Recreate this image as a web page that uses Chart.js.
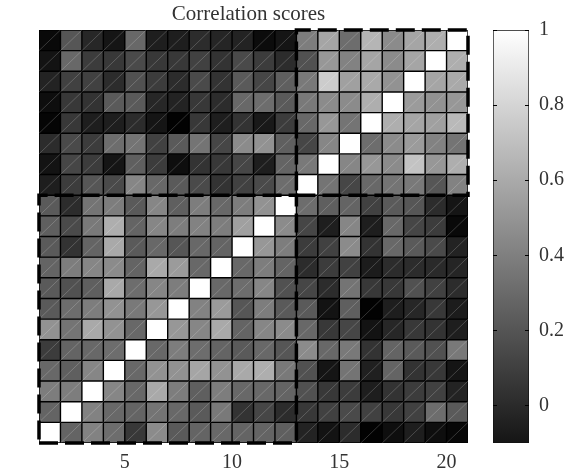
<!DOCTYPE html>
<html>
<head>
<meta charset="utf-8">
<title>Correlation scores</title>
<script src="https://cdn.jsdelivr.net/npm/chart.js@4/dist/chart.umd.js"></script>
<style>
  html, body { margin: 0; background: #fff; }
  canvas { position: absolute; left: 0; top: 0; }
</style>
</head>
<body>
<canvas id="heatmap" width="565" height="471"></canvas>
<canvas id="colorbar" width="565" height="471"></canvas>
<script>
const chartTitle = 'Correlation scores';
const xTicks = [5, 10, 15, 20];
const yTicks = [2, 4, 6, 8, 10, 12, 14, 16, 18, 20];
const barTicks = [0, 0.2, 0.4, 0.6, 0.8, 1];
const columns = [1, 2, 3, 4, 5, 6, 7, 8, 9, 10, 11, 12, 13, 14, 15, 16, 17, 18, 19, 20];

// one list per row, row number = lower edge of the cell on the y axis
const row20 = [-.06,.27,.07,-.01,.35,.03,.03,.09,.06,.05,-.05,-.01,.44,.61,.37,.68,.5,.61,.65,1];
const row19 = [-.02,.35,.16,.14,.22,.14,.14,.18,.12,.22,.16,.09,.25,.55,.46,.61,.5,.61,1,.65];
const row18 = [.05,.18,.18,.09,.25,.16,.09,.22,.12,.29,.2,.31,.42,.78,.59,.63,.53,1,.61,.63];
const row17 = [-.04,.14,.12,.29,.29,.07,.05,.14,.09,.35,.37,.29,.42,.5,.5,.65,1,.57,.53,.55];
const row16 = [-.08,.14,.03,.03,.09,-.01,-.09,.14,.03,.12,.01,.16,.35,.55,.4,1,.65,.61,.59,.7];
const row15 = [.09,.22,.16,.37,.4,.18,.29,.4,.2,.5,.53,.31,.2,.48,1,.37,.5,.57,.46,.4];
const row14 = [-.02,.2,.16,-.01,.31,.16,-.04,.12,.14,.2,.03,.33,.42,1,.48,.55,.5,.74,.55,.65];
const row13 = [.03,.16,.27,.22,.48,.35,.29,.22,.12,.18,.22,.37,1,.4,.2,.35,.4,.42,.27,.46];
const row12 = [.29,.09,.4,.44,.29,.48,.31,.44,.35,.44,.53,1,.37,.31,.33,.18,.29,.27,.09,-.01];
const row11 = [.31,.22,.42,.65,.33,.48,.44,.46,.44,.59,1,.5,.2,.03,.48,.03,.35,.2,.16,-.06];
const row10 = [.29,.12,.33,.63,.29,.35,.27,.35,.33,1,.55,.44,.16,.18,.5,.12,.35,.29,.22,.05];
const row9 = [.33,.44,.48,.5,.33,.63,.57,.35,1,.35,.44,.33,.09,.16,.18,.02,.09,.09,.08,.06];
const row8 = [.29,.25,.31,.63,.37,.48,.44,1,.35,.37,.48,.25,.2,.09,.4,.14,.14,.25,.18,.09];
const row7 = [.29,.37,.44,.53,.42,.55,1,.46,.57,.27,.44,.29,.29,-.02,.31,-.09,.03,.07,.14,.02];
const row6 = [.53,.4,.63,.53,.35,1,.55,.48,.63,.33,.48,.5,.35,.14,.2,-.02,.07,.14,.12,.03];
const row5 = [.16,.33,.35,.37,1,.35,.44,.37,.33,.29,.35,.27,.5,.35,.42,.12,.33,.29,.25,.42];
const row4 = [.35,.31,.48,1,.35,.53,.53,.61,.53,.63,.65,.42,.25,-.01,.4,.04,.33,.12,.14,-.01];
const row3 = [.44,.44,1,.48,.35,.63,.44,.31,.44,.35,.35,.33,.25,.14,.16,.03,.12,.16,.18,.05];
const row2 = [.33,1,.46,.35,.33,.4,.35,.29,.42,.12,.2,.09,.14,.18,.22,.18,.14,.18,.37,.29];
const row1 = [1,.33,.46,.37,.14,.5,.29,.33,.35,.33,.33,.31,.05,-.02,.09,-.09,-.04,.03,-.04,-.07];
const rows = [row1, row2, row3, row4, row5, row6, row7, row8, row9, row10,
  row11, row12, row13, row14, row15, row16, row17, row18, row19, row20];

// dashed cluster outlines, in axis units
const clusterA = [[1, 1], [13, 1], [13, 13], [1, 13], [1, 1]];
const clusterB = [[13, 13], [21, 13], [21, 21], [13, 21], [13, 13]];

const serif = '"Liberation Serif", serif';
const textColor = '#333';

function shade(v) {
  const g = Math.round(Math.max(0, Math.min(1, (v + 0.1) / 1.1)) * 255);
  return `rgb(${g},${g},${g})`;
}

// black behind the plot: bar borders are antialiased and let the page show through otherwise
const plotBackdrop = {
  id: 'plotBackdrop',
  beforeDatasetsDraw(chart) {
    const { ctx, chartArea: a } = chart;
    ctx.save();
    ctx.fillStyle = '#000';
    ctx.fillRect(a.left, a.top, a.width, a.height);
    ctx.restore();
  }
};

const cellDiagonals = {
  id: 'cellDiagonals',
  afterDatasetDraw(chart, args) {
    if (args.meta.type !== 'bar') return;
    const ctx = chart.ctx;
    ctx.save();
    ctx.strokeStyle = 'rgba(255,255,255,0.32)';
    ctx.lineWidth = 0.6;
    args.meta.data.forEach((bar) => {
      const { x, y, base, width } = bar.getProps(['x', 'y', 'base', 'width'], true);
      ctx.beginPath();
      ctx.moveTo(x - width / 2, Math.max(y, base));
      ctx.lineTo(x + width / 2, Math.min(y, base));
      ctx.stroke();
    });
    ctx.restore();
  }
};

const cellDatasets = rows.map((row, r) => ({
  type: 'bar',
  data: row.map((v, c) => ({ x: columns[c] + 0.5, y: [r + 1, r + 2] })),
  backgroundColor: row.map(shade),
  borderColor: '#000',
  borderWidth: 0.7,
  borderSkipped: false,
  inflateAmount: 0,
  grouped: false,
  barPercentage: 1,
  categoryPercentage: 1,
  order: 2
}));

const outlineDatasets = [clusterA, clusterB].map((path) => ({
  type: 'line',
  data: path.map(([x, y]) => ({ x, y })),
  borderColor: '#000',
  borderWidth: 3.5,
  borderDash: [19, 7],
  pointRadius: 0,
  tension: 0,
  clip: false,
  order: 1
}));

new Chart(document.getElementById('heatmap'), {
  data: { datasets: [...cellDatasets, ...outlineDatasets] },
  plugins: [plotBackdrop, cellDiagonals],
  options: {
    responsive: false,
    animation: false,
    // left padding + y axis width put the plot at x=39; it also centres the title where the original has it
    layout: { padding: { left: 29, right: 97 } },
    plugins: {
      legend: { display: false },
      tooltip: { enabled: false },
      title: {
        display: true,
        text: chartTitle,
        color: textColor,
        font: { family: serif, size: 21, weight: 'normal' },
        padding: { top: 2, bottom: 2.8 }
      }
    },
    scales: {
      x: {
        type: 'linear',
        offset: false,
        min: 1,
        max: 21,
        grid: { display: false, drawTicks: false },
        border: { display: false },
        afterBuildTicks: (scale) => { scale.ticks = xTicks.map((value) => ({ value })); },
        afterFit: (scale) => { scale.height = 28; },
        ticks: { color: textColor, padding: 8, maxRotation: 0, autoSkip: false, font: { family: serif, size: 20 } }
      },
      y: {
        type: 'linear',
        min: 1,
        max: 21,
        grid: { display: false, drawTicks: false },
        border: { display: false },
        afterBuildTicks: (scale) => { scale.ticks = yTicks.map((value) => ({ value })); },
        afterFit: (scale) => { scale.width = 10; },
        ticks: { color: textColor, padding: 11, autoSkip: false, font: { family: serif, size: 20 } }
      }
    }
  }
});

const barStubs = {
  id: 'barStubs',
  afterDatasetsDraw(chart) {
    const { ctx, chartArea } = chart;
    const scale = chart.scales.y;
    ctx.save();
    ctx.strokeStyle = '#000';
    ctx.lineWidth = 1;
    barTicks.forEach((value) => {
      const y = Math.round(scale.getPixelForValue(value)) + 0.5;
      ctx.beginPath();
      ctx.moveTo(chartArea.left, y);
      ctx.lineTo(chartArea.left + 4, y);
      ctx.moveTo(chartArea.right - 4, y);
      ctx.lineTo(chartArea.right, y);
      ctx.stroke();
    });
    ctx.restore();
  }
};

function barGradient(context) {
  const { ctx, chartArea } = context.chart;
  if (!chartArea) return '#888';
  const g = ctx.createLinearGradient(0, chartArea.bottom, 0, chartArea.top);
  g.addColorStop(0, '#151515');
  g.addColorStop(1, '#ffffff');
  return g;
}

new Chart(document.getElementById('colorbar'), {
  type: 'bar',
  data: {
    labels: ['scale'],
    datasets: [{
      data: [[-0.1, 1]],
      backgroundColor: barGradient,
      borderColor: '#111',
      borderWidth: 1,
      borderSkipped: false,
      barPercentage: 1,
      categoryPercentage: 1
    }]
  },
  plugins: [barStubs],
  options: {
    responsive: false,
    animation: false,
    layout: { padding: { left: 493, top: 30, bottom: 28 } },
    plugins: { legend: { display: false }, tooltip: { enabled: false } },
    scales: {
      x: { display: false },
      y: {
        position: 'right',
        min: -0.1,
        max: 1,
        grid: { display: false, drawTicks: false },
        border: { display: false },
        afterBuildTicks: (scale) => { scale.ticks = barTicks.map((value) => ({ value })); },
        afterFit: (scale) => { scale.width = 36; },
        ticks: {
          color: textColor,
          padding: 10,
          autoSkip: false,
          font: { family: serif, size: 20 },
          callback: (value) => String(value)
        }
      }
    }
  }
});
</script>
</body>
</html>
